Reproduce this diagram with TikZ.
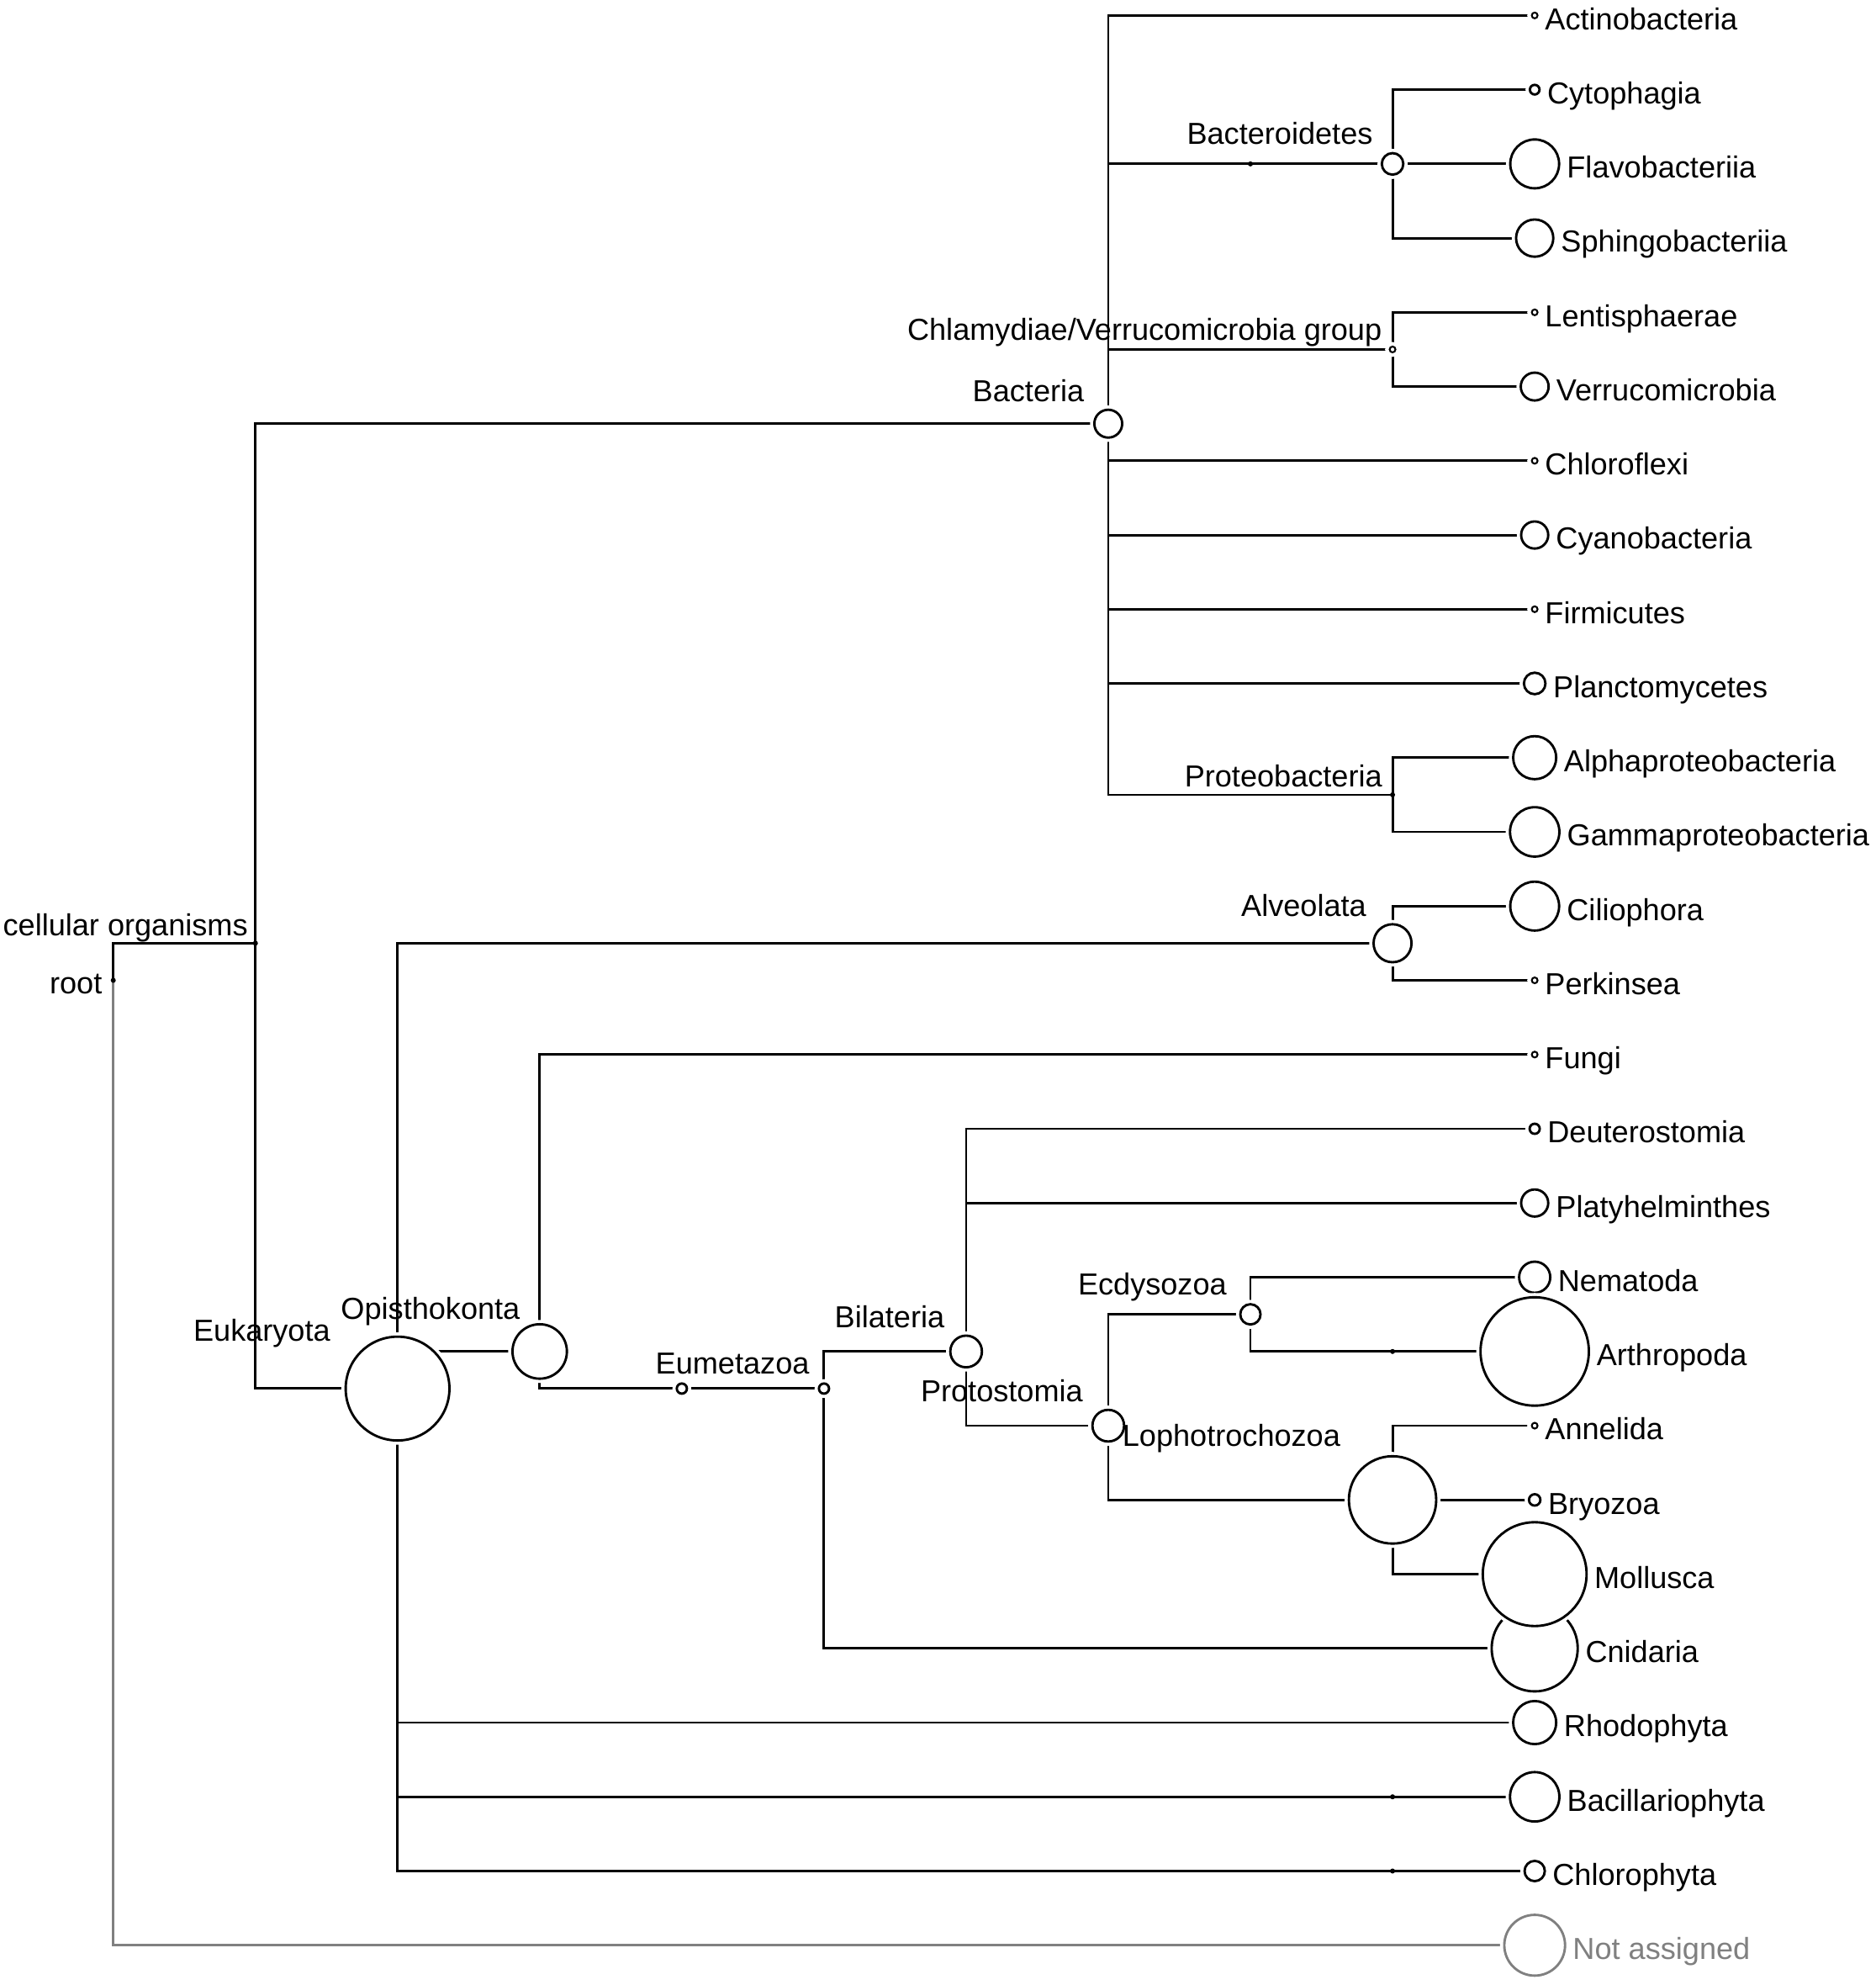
\documentclass[tikz,border=0pt]{standalone}
\usepackage{fontspec}
\setmainfont{Liberation Sans}
\usetikzlibrary{backgrounds,positioning}
\definecolor{nagray}{RGB}{128,128,128}
\tikzset{
  ln/.style={line width=1.9pt},
  nd/.style={circle, draw, fill=white, line width=1.9pt, inner sep=0pt,
     minimum size={2*#1}, preaction={draw=white, fill=white, line width=6.8pt}},
  tnd/.style={circle, draw, fill=white, line width=1.4pt, inner sep=0pt,
     minimum size=4.6pt, preaction={draw=white, fill=white, line width=6.8pt}},
  fdot/.style={circle, fill=black, inner sep=0pt, minimum size=4pt},
  tx/.style={font=\fontsize{24}{28}\selectfont, inner sep=0pt},
  lt/.style={tx, text height=24.3pt, text depth=1.9pt},
}
\begin{document}
\begin{tikzpicture}[x=112.31pt, y=-58.63pt]
\useasboundingbox (-89.5pt,12.2pt) rectangle (1392.5pt,-1555.8pt);
% ---------- internal nodes ----------
\node[fdot] (root) at (0,13) {};
\node[fdot] (cell) at (1,12.5) {};
\node[nd=11pt] (bact) at (7,5.5) {};
\node[fdot] (bacint) at (8,2) {};
\node[nd=8.5pt] (bactd) at (9,2) {};
\node[tnd] (chlam) at (9,4.5) {};
\node[fdot] (prot) at (9,10.5) {};
\node[nd=41pt] (euk) at (2,18.5) {};
\node[nd=15pt] (alv) at (9,12.5) {};
\node[nd=21.5pt] (opi) at (3,18) {};
\node[nd=4pt] (meta) at (4,18.5) {};
\node[nd=4pt] (eume) at (5,18.5) {};
\node[nd=12.5pt] (bila) at (6,18) {};
\node[nd=12.5pt] (prst) at (7,19) {};
\node[nd=8pt] (ecdy) at (8,17.5) {};
\node[fdot] (arthint) at (9,18) {};
\node[nd=34.5pt] (loph) at (9,20) {};
\node[fdot] (bacilint) at (9,24) {};
\node[fdot] (chlorint) at (9,25) {};
% ---------- leaves ----------
\node[tnd] (l0) at (10,0) {};
\node[nd=3.8pt] (l1) at (10,1) {};
\node[nd=19.3pt] (l2) at (10,2) {};
\node[nd=14.7pt] (l3) at (10,3) {};
\node[tnd] (l4) at (10,4) {};
\node[nd=11pt] (l5) at (10,5) {};
\node[tnd] (l6) at (10,6) {};
\node[nd=10.7pt] (l7) at (10,7) {};
\node[tnd] (l8) at (10,8) {};
\node[nd=8.5pt] (l9) at (10,9) {};
\node[nd=17pt] (l10) at (10,10) {};
\node[nd=19.5pt] (l11) at (10,11) {};
\node[nd=19.3pt] (l12) at (10,12) {};
\node[tnd] (l13) at (10,13) {};
\node[tnd] (l14) at (10,14) {};
\node[nd=4pt] (l15) at (10,15) {};
\node[nd=10.7pt] (l16) at (10,16) {};
\node[nd=12.3pt] (l17) at (10,17) {};
\node[nd=42.8pt] (l18) at (10,18) {};
\node[tnd] (l19) at (10,19) {};
\node[nd=4.5pt] (l20) at (10,20) {};
\node[nd=34pt] (l22) at (10,22) {};
\node[nd=41pt] (l21) at (10,21) {};
\node[nd=17pt] (l23) at (10,23) {};
\node[nd=19.5pt] (l24) at (10,24) {};
\node[nd=8pt] (l25) at (10,25) {};
\node[nd=24pt, draw=nagray] (na) at (10,26) {};
% ---------- leaf labels ----------
\node[lt, right=5pt of l0] (t0) {Actinobacteria};
\node[lt, right=5pt of l1] (t1) {Cytophagia};
\node[lt, right=5pt of l2] (t2) {Flavobacteriia};
\node[lt, right=5pt of l3] (t3) {Sphingobacteriia};
\node[lt, right=5pt of l4] (t4) {Lentisphaerae};
\node[lt, right=5pt of l5] (t5) {Verrucomicrobia};
\node[lt, right=5pt of l6] (t6) {Chloroflexi};
\node[lt, right=5pt of l7] (t7) {Cyanobacteria};
\node[lt, right=5pt of l8] (t8) {Firmicutes};
\node[lt, right=5pt of l9] (t9) {Planctomycetes};
\node[lt, right=5pt of l10] (t10) {Alphaproteobacteria};
\node[lt, right=5pt of l11] (t11) {Gammaproteobacteria};
\node[lt, right=5pt of l12] (t12) {Ciliophora};
\node[lt, right=5pt of l13] (t13) {Perkinsea};
\node[lt, right=5pt of l14] (t14) {Fungi};
\node[lt, right=5pt of l15] (t15) {Deuterostomia};
\node[lt, right=5pt of l16] (t16) {Platyhelminthes};
\node[lt, right=5pt of l17] (t17) {Nematoda};
\node[lt, right=5pt of l18] (t18) {Arthropoda};
\node[lt, right=5pt of l19] (t19) {Annelida};
\node[lt, right=5pt of l20] (t20) {Bryozoa};
\node[lt, right=5pt of l21] (t21) {Mollusca};
\node[lt, right=5pt of l22] (t22) {Cnidaria};
\node[lt, right=5pt of l23] (t23) {Rhodophyta};
\node[lt, right=5pt of l24] (t24) {Bacillariophyta};
\node[lt, right=5pt of l25] (t25) {Chlorophyta};
\node[lt, text=nagray, right=5pt of na] (tna) {Not assigned};
% ---------- internal labels ----------
\node[tx, anchor=base east, xshift=-8.7pt, yshift=-10.6pt] (rootT) at (root.center) {root};
\node[tx, anchor=base east, xshift=-5.8pt, yshift=5.7pt] (cellT) at (cell.center) {cellular organisms};
\node[tx, anchor=base east, xshift=-18.9pt, yshift=17.7pt] (bactT) at (bact.center) {Bacteria};
\node[tx, anchor=base east, xshift=-15.5pt, yshift=15.5pt] (bactdT) at (bactd.center) {Bacteroidetes};
\node[tx, anchor=base east, xshift=-8.3pt, yshift=7pt] (chlamT) at (chlam.center) {Chlamydiae/Verrucomicrobia group};
\node[tx, anchor=base east, xshift=-8pt, yshift=6pt] (protT) at (prot.center) {Proteobacteria};
\node[tx, anchor=base east, xshift=-20.6pt, yshift=21.1pt] (alvT) at (alv.center) {Alveolata};
\node[tx, anchor=base east, xshift=-53pt, yshift=37.4pt] (eukT) at (euk.center) {Eukaryota};
\node[tx, anchor=base east, xshift=-15.4pt, yshift=25.7pt] (opiT) at (opi.center) {Opisthokonta};
\node[tx, anchor=base east, xshift=-11.4pt, yshift=11.5pt] (eumeT) at (eume.center) {Eumetazoa};
\node[tx, anchor=base east, xshift=-16.9pt, yshift=19.1pt] (bilaT) at (bila.center) {Bilateria};
\node[tx, anchor=base east, xshift=-19.9pt, yshift=19.1pt] (prstT) at (prst.center) {Protostomia};
\node[tx, anchor=base east, xshift=-18.6pt, yshift=15.7pt] (ecdyT) at (ecdy.center) {Ecdysozoa};
\node[tx, anchor=base west, xshift=-213.6pt, yshift=42.2pt] (lophT) at (loph.center) {Lophotrochozoa};
% ---------- edges ----------
\begin{pgfonlayer}{background}
\fill[white] (-89.5pt,12.2pt) rectangle (1392.5pt,-1555.8pt);
\draw[ln] (root.center) |- (cell.center);
\draw[ln, nagray] (root.center) |- (na.center);
\draw[ln] (cell.center) |- (bact.center);
\draw[ln] (cell.center) |- (euk.center);
\foreach \c in {l0,bacint,chlam,l6,l7,l8,l9,prot} \draw[ln] (bact.center) |- (\c.center);
\draw[ln] (bacint.center) -- (bactd.center);
\foreach \c in {l1,l2,l3} \draw[ln] (bactd.center) |- (\c.center);
\foreach \c in {l4,l5} \draw[ln] (chlam.center) |- (\c.center);
\foreach \c in {l10,l11} \draw[ln] (prot.center) |- (\c.center);
\foreach \c in {alv,opi,l23,bacilint,chlorint} \draw[ln] (euk.center) |- (\c.center);
\foreach \c in {l12,l13} \draw[ln] (alv.center) |- (\c.center);
\foreach \c in {l14,meta} \draw[ln] (opi.center) |- (\c.center);
\draw[ln] (meta.center) -- (eume.center);
\foreach \c in {bila,l22} \draw[ln] (eume.center) |- (\c.center);
\foreach \c in {l15,l16,prst} \draw[ln] (bila.center) |- (\c.center);
\foreach \c in {ecdy,loph} \draw[ln] (prst.center) |- (\c.center);
\foreach \c in {l17,arthint} \draw[ln] (ecdy.center) |- (\c.center);
\draw[ln] (arthint.center) -- (l18.center);
\foreach \c in {l19,l20,l21} \draw[ln] (loph.center) |- (\c.center);
\draw[ln] (bacilint.center) -- (l24.center);
\draw[ln] (chlorint.center) -- (l25.center);
\end{pgfonlayer}
\end{tikzpicture}
\end{document}
